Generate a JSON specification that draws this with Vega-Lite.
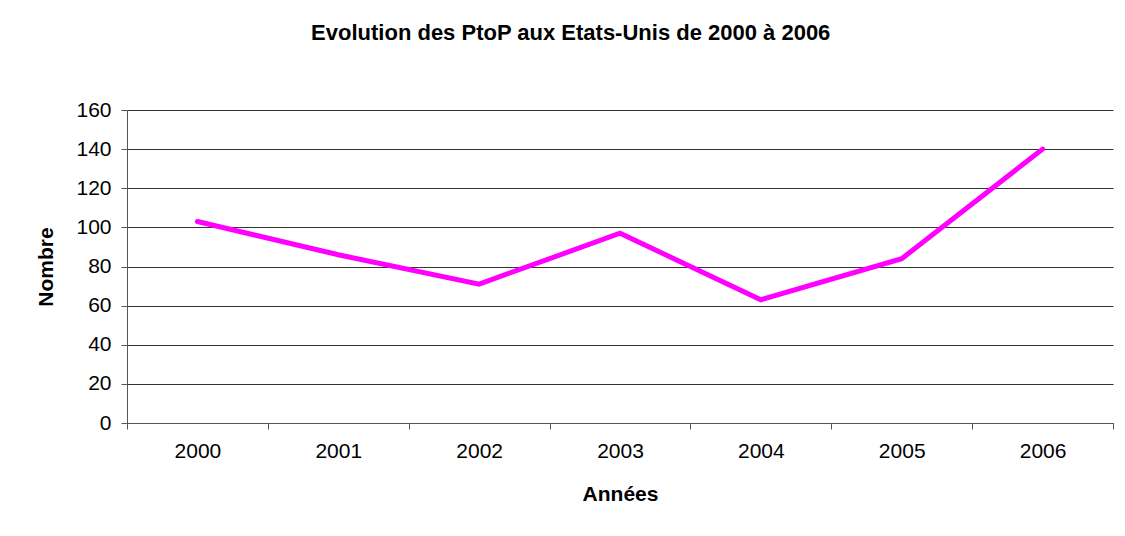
{
  "$schema": "https://vega.github.io/schema/vega-lite/v6.json",
  "autosize": {"type": "none"},
  "padding": {"left": 127, "top": 110, "right": 12, "bottom": 113},
  "width": 986,
  "height": 313,
  "background": "white",
  "title": {
    "text": "Evolution des PtoP aux Etats-Unis de 2000 à 2006",
    "font": "Liberation Sans",
    "fontSize": 22,
    "fontWeight": "bold",
    "color": "#000000",
    "anchor": "middle",
    "frame": "bounds",
    "offset": 54,
    "dx": -4
  },
  "config": {
    "view": {"stroke": null},
    "axis": {
      "labelFont": "Liberation Sans",
      "labelFontSize": 21,
      "labelColor": "#000000",
      "titleFont": "Liberation Sans",
      "titleFontSize": 21,
      "titleFontWeight": "bold",
      "titleColor": "#000000",
      "domainColor": "#555555",
      "tickColor": "#555555",
      "gridColor": "#333333",
      "gridOpacity": 1,
      "tickSize": 6
    }
  },
  "data": {
    "values": [
      {"annee": "2000", "nombre": 103},
      {"annee": "2001", "nombre": 86},
      {"annee": "2002", "nombre": 71},
      {"annee": "2003", "nombre": 97},
      {"annee": "2004", "nombre": 63},
      {"annee": "2005", "nombre": 84},
      {"annee": "2006", "nombre": 140}
    ]
  },
  "mark": {"type": "line", "color": "#FF00FF", "strokeWidth": 5, "strokeCap": "round", "strokeJoin": "miter"},
  "encoding": {
    "x": {
      "field": "annee",
      "type": "ordinal",
      "scale": {"paddingInner": 0, "paddingOuter": 0},
      "axis": {
        "title": "Années",
        "labelAngle": 0,
        "tickBand": "extent",
        "grid": false,
        "labelPadding": 11,
        "titlePadding": 22
      }
    },
    "y": {
      "field": "nombre",
      "type": "quantitative",
      "scale": {"domain": [0, 160], "nice": false},
      "axis": {
        "title": "Nombre",
        "values": [0, 20, 40, 60, 80, 100, 120, 140, 160],
        "grid": true,
        "labelPadding": 10,
        "titlePadding": 19
      }
    }
  }
}
